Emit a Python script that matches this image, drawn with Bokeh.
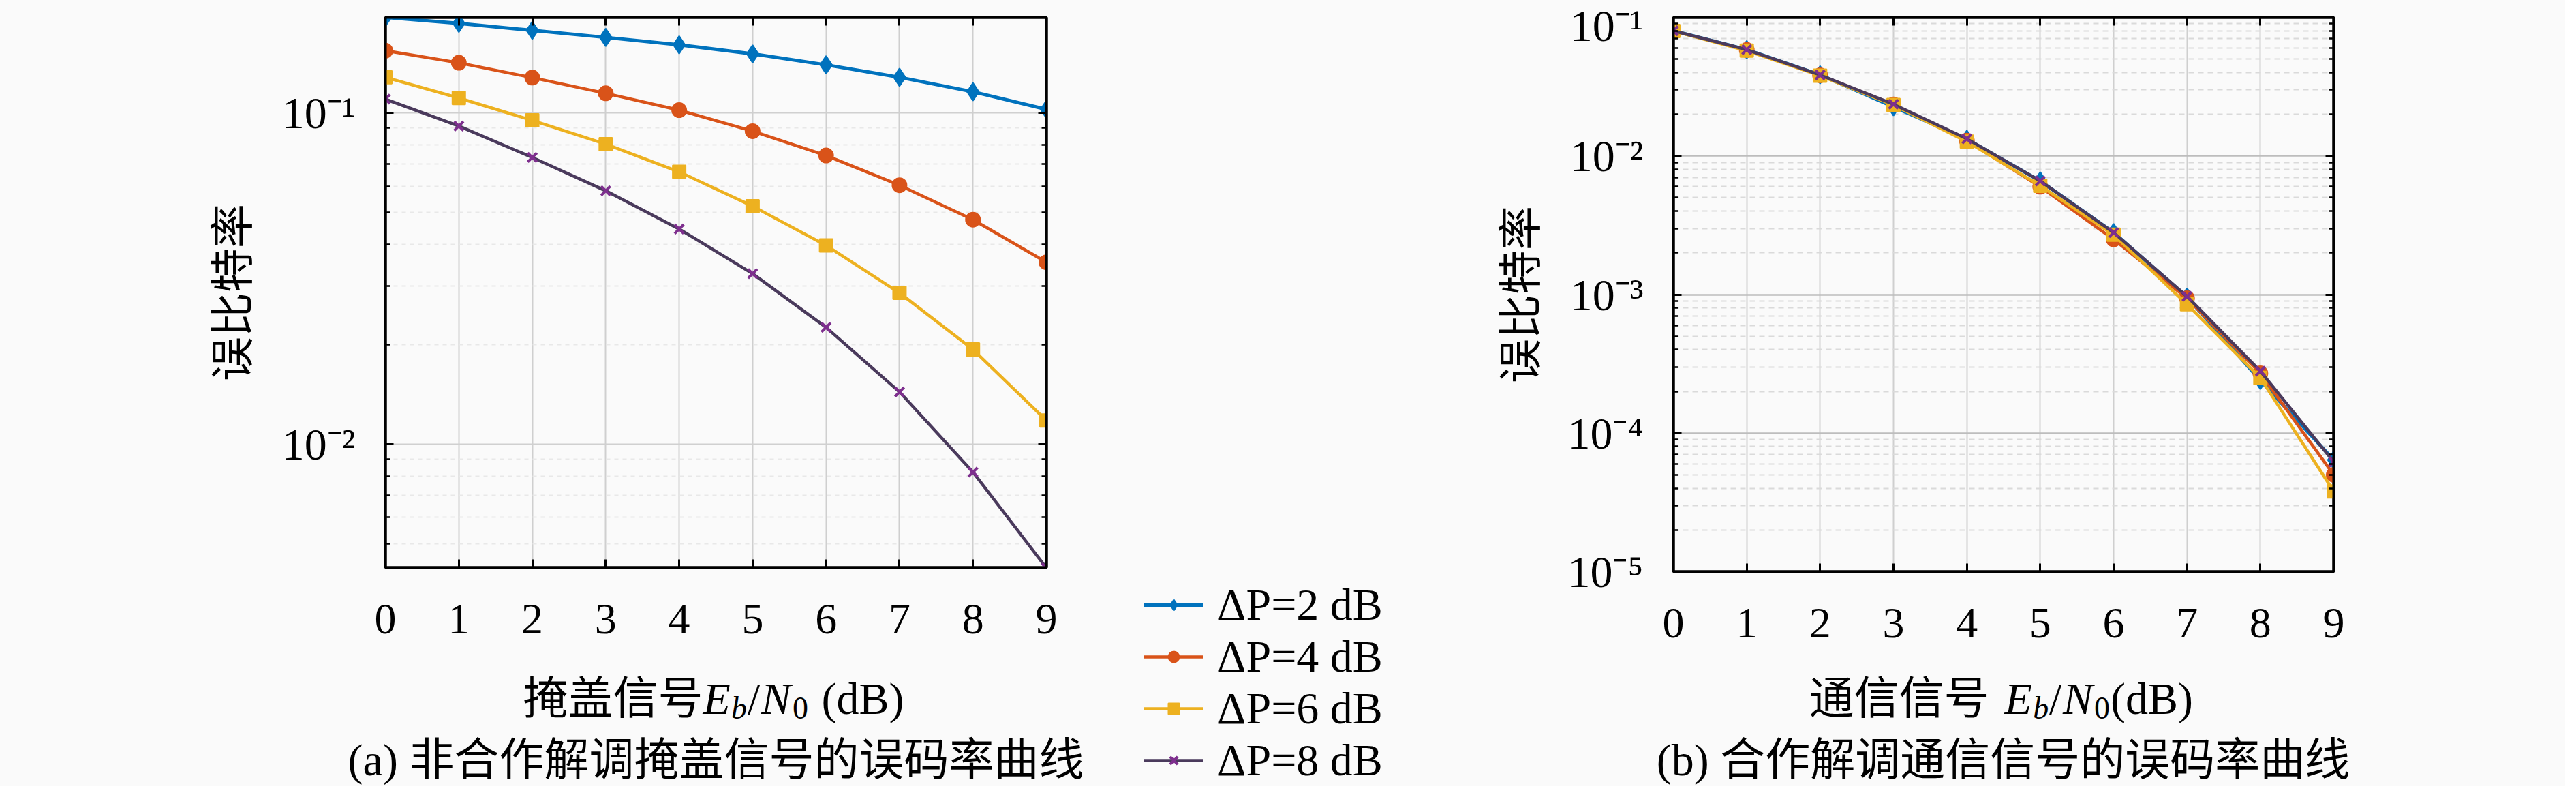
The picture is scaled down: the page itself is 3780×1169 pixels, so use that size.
import math
from bokeh.plotting import figure
from bokeh.models import (FixedTicker, LogAxis, LinearAxis, Label, Range1d,
                          CustomJSTickFormatter)
from bokeh.layouts import row, column
from bokeh.embed import file_html
from bokeh.resources import INLINE

# ---------------- data ----------------
snr_db = [0, 1, 2, 3, 4, 5, 6, 7, 8, 9]
series_labels = ["ΔP=2 dB", "ΔP=4 dB", "ΔP=6 dB", "ΔP=8 dB"]

# (a) non-cooperative demodulation of the cover signal
ber_a_dp2 = [0.1944, 0.1866, 0.1777, 0.1692, 0.1607, 0.1509, 0.1398, 0.1282, 0.1159, 0.1026]
ber_a_dp4 = [0.1543, 0.1418, 0.1279, 0.1147, 0.1020, 0.0881, 0.0744, 0.0605, 0.0476, 0.0354]
ber_a_dp6 = [0.1282, 0.1110, 0.0950, 0.0805, 0.0664, 0.0523, 0.0398, 0.0286, 0.0193, 0.01177]
ber_a_dp8 = [0.1101, 0.0913, 0.0734, 0.0582, 0.0446, 0.0327, 0.0225, 0.01436, 0.00822, 0.00422]

# (b) cooperative demodulation of the communication signal
ber_b_dp2 = [0.0800, 0.0585, 0.0385, 0.0226, 0.0132, 0.0066, 0.00280, 0.00096, 0.00024, 6.4e-5]
ber_b_dp4 = [0.0798, 0.0582, 0.0382, 0.0235, 0.0129, 0.0060, 0.00250, 0.00094, 0.00027, 5.0e-5]
ber_b_dp6 = [0.0797, 0.0575, 0.0380, 0.0233, 0.0127, 0.0061, 0.00270, 0.00085, 0.00025, 3.8e-5]
ber_b_dp8 = [0.0800, 0.0585, 0.0384, 0.0236, 0.0133, 0.0066, 0.00280, 0.00097, 0.00028, 6.2e-5]

x_ticks = [0, 1, 2, 3, 4, 5, 6, 7, 8, 9]
y_ticks_a = [0.01, 0.1]
y_tick_labels_a = ["10⁻²", "10⁻¹"]
y_ticks_b = [1e-5, 1e-4, 1e-3, 1e-2, 1e-1]
y_tick_labels_b = ["10⁻⁵", "10⁻⁴", "10⁻³", "10⁻²", "10⁻¹"]
y_range_a = (0.00423, 0.1945)
y_range_b = (1e-5, 1e-1)

ylabel_text = "误比特率"
caption_a = "(a) 非合作解调掩盖信号的误码率曲线"
caption_b = "(b) 合作解调通信信号的误码率曲线"

# ---------------- styles ----------------
BG = "#fafafa"
SERIF = "Liberation Serif"
CJK = "Noto Sans CJK SC"
MIXED = "Liberation Serif, Noto Sans CJK SC"
line_colors = ["#0072BD", "#D95319", "#EDB120", "#4a3a5c"]
marker_colors = ["#0072BD", "#D95319", "#EDB120", "#7E2F8E"]
markers = ["diamond", "circle", "square", "x"]
marker_sizes = [26, 21, 19, 19]
line_widths = [5, 4.5, 4.5, 4.5]
NAN = float("nan")


def no_align(p):
    try:
        p.frame_align = False
    except Exception:
        pass


def minor_list(lo_exp, hi_exp):
    out = []
    for e in range(lo_exp, hi_exp + 1):
        for m in range(2, 10):
            out.append(m * 10.0 ** e)
    return out


def log_formatter(tick_vals, tick_texts):
    return CustomJSTickFormatter(args=dict(tvals=tick_vals, ttexts=tick_texts), code="""
        let best = 0; let d = Infinity;
        for (let i = 0; i < tvals.length; i++) {
            const dd = Math.abs(Math.log10(tick) - Math.log10(tvals[i]));
            if (dd < d) { d = dd; best = i; }
        }
        return ttexts[best];
    """)


def style_axis(ax, show_labels, minor=True):
    ax.axis_line_width = 4
    ax.axis_line_color = "black"
    ax.major_tick_in = 12
    ax.major_tick_out = 0
    ax.major_tick_line_width = 3
    ax.major_tick_line_color = "black"
    if minor:
        ax.minor_tick_in = 7
        ax.minor_tick_out = 0
        ax.minor_tick_line_width = 2.5
        ax.minor_tick_line_color = "black"
    else:
        ax.minor_tick_line_color = None
    if show_labels:
        ax.major_label_text_color = "black"
    else:
        ax.major_label_text_color = None
        ax.major_label_text_alpha = 0
        ax.major_label_standoff = 0


def make_fig(w, h, fw, fh, bl, bt, yr, yticks, ylabels, yminor, major_grid, minor_grid,
             label_standoff):
    p = figure(width=w, height=h, frame_width=fw, frame_height=fh, y_axis_type="log",
               x_range=Range1d(0, 9), y_range=Range1d(*yr),
               output_backend="svg", toolbar_location=None,
               min_border_left=bl, min_border_right=w - bl - fw,
               min_border_top=bt, min_border_bottom=h - bt - fh,
               background_fill_color=BG, border_fill_color=BG,
               outline_line_color="black", outline_line_width=4)
    no_align(p)
    xt = FixedTicker(ticks=x_ticks, minor_ticks=[])
    yt = FixedTicker(ticks=yticks, minor_ticks=yminor)
    fmt = log_formatter(yticks, ylabels)

    xa = p.xaxis[0]
    xa.ticker = xt
    style_axis(xa, True, minor=False)
    xa.major_label_text_font = SERIF
    xa.major_label_text_font_size = "64px"
    xa.major_label_standoff = 54

    ya = p.yaxis[0]
    ya.ticker = yt
    ya.formatter = fmt
    style_axis(ya, True)
    ya.major_label_text_font = SERIF
    ya.major_label_text_font_size = "66px"
    ya.major_label_standoff = 44
    ya.axis_label = ylabel_text
    ya.axis_label_text_font = CJK
    ya.axis_label_text_font_size = "65px"
    ya.axis_label_text_font_style = "normal"
    ya.axis_label_text_color = "black"
    ya.axis_label_standoff = label_standoff

    ra = LogAxis(ticker=yt, formatter=fmt)
    style_axis(ra, False)
    p.add_layout(ra, "right")
    ta = LinearAxis(ticker=xt)
    style_axis(ta, False, minor=False)
    p.add_layout(ta, "above")

    p.xgrid.ticker = xt
    p.xgrid.grid_line_color = "#cfcfcf"
    p.xgrid.grid_line_width = 2
    p.ygrid.ticker = yt
    p.ygrid.grid_line_color = major_grid[0]
    p.ygrid.grid_line_width = major_grid[1]
    p.ygrid.minor_grid_line_color = minor_grid[0]
    p.ygrid.minor_grid_line_width = minor_grid[1]
    p.ygrid.minor_grid_line_dash = minor_grid[2]
    return p


def blank_fig(w, h):
    p = figure(width=w, height=h, x_range=Range1d(0, 1), y_range=Range1d(0, 1),
               output_backend="svg", toolbar_location=None,
               x_axis_location=None, y_axis_location=None,
               min_border=0, background_fill_color=BG, border_fill_color=BG,
               outline_line_color=None)
    no_align(p)
    for g in p.grid:
        g.visible = False
    return p


def draw_series(p, series, legend=False):
    for i, ys in enumerate(series):
        kw = dict(legend_label=series_labels[i]) if legend else {}
        xs = snr_db if len(ys) == len(snr_db) else [NAN] * len(ys)
        p.line(xs, ys, line_color=line_colors[i], line_width=line_widths[i], **kw)
        if markers[i] == "x":
            p.scatter(xs, ys, marker="x", size=marker_sizes[i],
                      line_color=marker_colors[i], line_width=4, **kw)
        else:
            p.scatter(xs, ys, marker=markers[i], size=marker_sizes[i],
                      fill_color=marker_colors[i], line_color=marker_colors[i],
                      line_width=2, **kw)


def add_pieces(p, pieces, start_x, baseline_y, org_x, org_bottom):
    x = start_x
    for text, font, style, size, dy, w_em in pieces:
        p.add_layout(Label(x=x - org_x, y=org_bottom - (baseline_y + dy),
                           x_units="screen", y_units="screen", text=text,
                           text_font=font, text_font_style=style,
                           text_font_size=f"{size}px", text_color="black",
                           text_align="left", text_baseline="alphabetic"))
        x += w_em * size


def eb_n0_pieces(prefix, prefix_em, gap_after_prefix, gap_before_tail, tail, tail_em):
    F, S, D = 66, 46, 14
    return [
        (prefix, MIXED, "normal", F, 0, prefix_em + gap_after_prefix),
        ("E", SERIF, "italic", F, 0, 0.63),
        ("b", SERIF, "italic", S, D, 0.52),
        ("/", SERIF, "normal", F, 0, 0.30),
        ("N", SERIF, "italic", F, 0, 0.70),
        ("0", SERIF, "normal", S, D, 0.52 + gap_before_tail * F / S),
        (tail, SERIF, "normal", F, 0, tail_em),
    ]


def add_center_label(p, text, cx, cy, org_x, org_bottom, size, font):
    p.add_layout(Label(x=cx - org_x, y=org_bottom - cy,
                       x_units="screen", y_units="screen", text=text,
                       text_font=font, text_font_size=f"{size}px",
                       text_color="black", text_align="center",
                       text_baseline="middle"))


PAGE_BOTTOM = 1161
LABEL_BASE = 1032

# ---------------- panel (a): x 8..1620 ----------------
pa = make_fig(1612, 952, 970, 807, 565, 25, y_range_a, y_ticks_a, y_tick_labels_a,
              minor_list(-3, -1), ("#d0d0d0", 2), ("#e8e8e8", 2, "6 6"), 28)
draw_series(pa, [ber_a_dp2, ber_a_dp4, ber_a_dp6, ber_a_dp8])

ta_fig = blank_fig(1612, 201)
add_pieces(ta_fig, eb_n0_pieces("掩盖信号", 4.0, 0.0, 0.28, "(dB)", 1.833),
           775, LABEL_BASE, 8, PAGE_BOTTOM)
add_center_label(ta_fig, caption_a, 1058, 1122, 8, PAGE_BOTTOM, 66, MIXED)

# ---------------- legend column: x 1620..2150 ----------------
pm = blank_fig(530, 1153)
draw_series(pm, [[NAN], [NAN], [NAN], [NAN]], legend=True)
lg = pm.legend[0]
lg.location = (1686 - 1620, PAGE_BOTTOM - 1161)
lg.background_fill_alpha = 0
lg.border_line_color = None
lg.padding = 0
lg.margin = 0
lg.spacing = 0
lg.label_height = 70
lg.glyph_height = 40
lg.glyph_width = 88
lg.label_standoff = 20
lg.label_text_font = SERIF
lg.label_text_font_size = "66px"
lg.label_text_color = "black"
lg.label_text_baseline = "middle"

# ---------------- panel (b): x 2150..3772 ----------------
pb = make_fig(1622, 952, 969, 813, 313, 25, y_range_b, y_ticks_b, y_tick_labels_b,
              minor_list(-5, -2), ("#bdbdbd", 2.5), ("#dadada", 2, "8 6"), 24)
draw_series(pb, [ber_b_dp2, ber_b_dp4, ber_b_dp6, ber_b_dp8])

tb_fig = blank_fig(1622, 201)
add_pieces(tb_fig, eb_n0_pieces("通信信号", 4.0, 0.35, 0.0, "(dB)", 1.833),
           2662, LABEL_BASE, 2150, PAGE_BOTTOM)
add_center_label(tb_fig, caption_b, 2947, 1122, 2150, PAGE_BOTTOM, 66, MIXED)

layout = row(column(pa, row(ta_fig), spacing=0), pm,
             column(pb, row(tb_fig), spacing=0), spacing=0)
layout.styles = {"background-color": BG}

open("out.html", "w").write(file_html(layout, INLINE))
